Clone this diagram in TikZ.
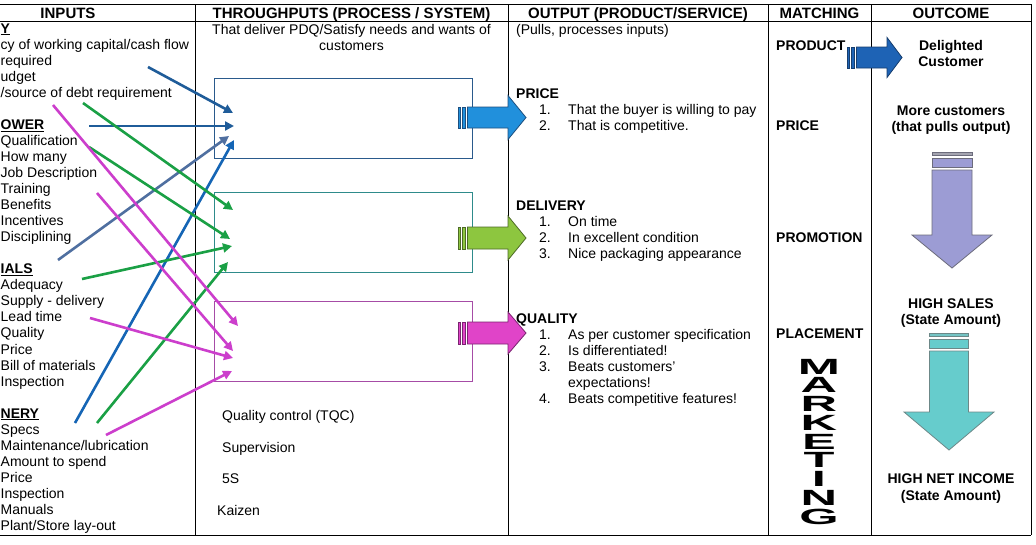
\documentclass[tikz,border=0pt]{standalone}
\usepackage{fontspec}
\setmainfont{Liberation Sans}
\setsansfont{Liberation Sans}
\usetikzlibrary{arrows.meta}
\definecolor{cDarkBlue}{HTML}{1F5C99}
\definecolor{cSlate}{HTML}{4F6FA0}
\definecolor{cBlue}{HTML}{1565B5}
\definecolor{cGreen}{HTML}{1AA045}
\definecolor{cMag}{HTML}{CC3ECC}
\definecolor{boxA}{HTML}{2A5A8C}
\definecolor{boxB}{HTML}{2E8B8B}
\definecolor{boxC}{HTML}{A64CA6}
\definecolor{fA}{HTML}{2190DC}\definecolor{dA}{HTML}{1D4F7F}
\definecolor{fB}{HTML}{8DC63F}\definecolor{dB}{HTML}{4E6B26}
\definecolor{fC}{HTML}{E044C8}\definecolor{dC}{HTML}{7A2470}
\definecolor{fP}{HTML}{1E63B5}\definecolor{dP}{HTML}{163E6E}
\definecolor{fL}{HTML}{9C9CD4}\definecolor{dL}{HTML}{6C6C7C}\definecolor{bL}{HTML}{A4A4B0}
\definecolor{fT}{HTML}{66CCCC}\definecolor{dT}{HTML}{6C8888}\definecolor{bT}{HTML}{74C4C4}
% striped right block arrow: fill, draw, x0, xhead, xtip, cy, shaft half, head half
\newcommand\rsarrow[8]{%
  \filldraw[fill=#1,draw=#2,line width=0.8pt] ({#3},{#6-#7}) rectangle ({#3+2.5},{#6+#7});
  \filldraw[fill=#1,draw=#2,line width=0.8pt] ({#3+4.5},{#6-#7}) rectangle ({#3+7.5},{#6+#7});
  \filldraw[fill=#1,draw=#2,line width=0.8pt] ({#3+9.5},{#6-#7}) -- ({#4},{#6-#7}) -- ({#4},{#6-#8})
     -- ({#5},{#6}) -- ({#4},{#6+#8}) -- ({#4},{#6+#7}) -- ({#3+9.5},{#6+#7}) -- cycle;}
% striped down block arrow: fill, draw, barfill, cx, ytop, yhead, ytip, shaft half, head half
\newcommand\dsarrow[9]{%
  \filldraw[fill=#3,draw=#2,line width=0.8pt] ({#4-#8},{#5}) rectangle ({#4+#8},{#5+3.5});
  \filldraw[fill=#1,draw=#2,line width=0.8pt] ({#4-#8},{#5+6.5}) rectangle ({#4+#8},{#5+15});
  \filldraw[fill=#1,draw=#2,line width=0.8pt] ({#4-#8},{#5+18}) -- ({#4+#8},{#5+18}) -- ({#4+#8},{#6})
     -- ({#4+#9},{#6}) -- ({#4},{#7}) -- ({#4-#9},{#6}) -- ({#4-#8},{#6}) -- cycle;}
\newcommand\li[3]{\node[txt] (#2) at (0.5,{33+16.05*#1}) {#3};}
\newcommand\itm[4]{\node[num] (#1n) at (551,#2) {#3.}; \node[txt] (#1) at (568,#2) {#4};}
\begin{document}
\begin{tikzpicture}[x=1pt,y=-1pt,
  hdr/.style={font=\bfseries\fontsize{15}{17}\selectfont, inner sep=0, anchor=base},
  txt/.style={font=\fontsize{14}{16}\selectfont, inner sep=0, anchor=base west},
  ctxt/.style={font=\fontsize{14}{16}\selectfont, inner sep=0, anchor=base},
  btxt/.style={font=\bfseries\fontsize{14}{16}\selectfont, inner sep=0, anchor=base west},
  cbtxt/.style={font=\bfseries\fontsize{14}{16}\selectfont, inner sep=0, anchor=base},
  num/.style={font=\fontsize{14}{16}\selectfont, inner sep=0, anchor=base east},
  conn/.style={line width=2.6pt, -{Triangle[length=9pt,width=9pt]}},
  procbox/.style={minimum width=258pt, minimum height=80pt, inner sep=0, line width=0.9pt},
  mk/.style={font=\bfseries\fontsize{22}{22}\selectfont, inner sep=0},
  grid/.style={line width=1pt, black}]
\useasboundingbox[fill=white] (0,0) rectangle (1036,544);
% table
\draw[grid] (0,4) -- (1031,4) (0,21.5) -- (1031,21.5) (0,535) -- (1031,535);
\foreach \x in {195,508,768,871,1031} \draw[grid] (\x,4) -- (\x,535);
% headers
\node[hdr] (hIn) at (68,18.5) {INPUTS};
\node[hdr] (hTh) at (351.5,18.5) {THROUGHPUTS (PROCESS / SYSTEM)};
\node[hdr] (hOut) at (638,18.5) {OUTPUT (PRODUCT/SERVICE)};
\node[hdr] (hMa) at (819.5,18.5) {MATCHING};
\node[hdr] (hOc) at (951,18.5) {OUTCOME};
% inputs column
\li{0}{i0}{\underline{\textbf{Y}}}
\li{1}{i1}{cy of working capital/cash flow}
\li{2}{i2}{required}
\li{3}{i3}{udget}
\li{4}{i4}{/source of debt requirement}
\li{6}{i6}{\underline{\textbf{OWER}}}
\li{7}{i7}{Qualification}
\li{8}{i8}{How many}
\li{9}{i9}{Job Description}
\li{10}{i10}{Training}
\li{11}{i11}{Benefits}
\li{12}{i12}{Incentives}
\li{13}{i13}{Disciplining}
\li{15}{i15}{\underline{\textbf{IALS}}}
\li{16}{i16}{Adequacy}
\li{17}{i17}{Supply - delivery}
\li{18}{i18}{Lead time}
\li{19}{i19}{Quality}
\li{20}{i20}{Price}
\li{21}{i21}{Bill of materials}
\li{22}{i22}{Inspection}
\li{24}{i24}{\underline{\textbf{NERY}}}
\li{25}{i25}{Specs}
\li{26}{i26}{Maintenance/lubrication}
\li{27}{i27}{Amount to spend}
\li{28}{i28}{Price}
\li{29}{i29}{Inspection}
\li{30}{i30}{Manuals}
\li{31}{i31}{Plant/Store lay-out}
% throughputs column
\node[ctxt] (sub1) at (351.5,34) {That deliver PDQ/Satisfy needs and wants of};
\node[ctxt] (sub2) at (351.5,50) {customers};
\node[procbox, draw=boxA] (b1) at (343,118) {};
\node[procbox, draw=boxB] (b2) at (343,232.5) {};
\node[procbox, draw=boxC] (b3) at (343,341.5) {};
\node[txt] (q1) at (222,420) {Quality control (TQC)};
\node[txt] (q2) at (222,452) {Supervision};
\node[txt] (q3) at (222,483) {5S};
\node[txt] (q4) at (217,515) {Kaizen};
% block arrows from boxes
\rsarrow{fA}{dA}{458}{508}{526}{117.5}{10.5}{22}
\rsarrow{fB}{dB}{458}{508}{526}{238}{11}{22}
\rsarrow{fC}{dC}{458}{508}{526}{333}{11}{21}
% connectors
\coordinate (s1) at (148,67);   \coordinate (t1) at (233,113);
\coordinate (s2) at (89,126);   \coordinate (t2) at (234,126);
\coordinate (s3) at (58,260);   \coordinate (t3) at (229,136);
\coordinate (s4) at (75,423);   \coordinate (t4) at (234,140);
\coordinate (s5) at (83,103);   \coordinate (t5) at (233,210);
\coordinate (s6) at (89,147);   \coordinate (t6) at (230,239);
\coordinate (s7) at (82,279);   \coordinate (t7) at (232,246);
\coordinate (s8) at (97,423);   \coordinate (t8) at (228,262);
\coordinate (s9) at (53,105);   \coordinate (t9) at (238,326);
\coordinate (s10) at (97,193);  \coordinate (t10) at (233,351);
\coordinate (s11) at (90,318);  \coordinate (t11) at (233,358);
\coordinate (s12) at (106,435); \coordinate (t12) at (232,371);
\draw[conn, cDarkBlue] (s1) -- (t1);
\draw[conn, cDarkBlue] (s2) -- (t2);
\draw[conn, cSlate] (s3) -- (t3);
\draw[conn, cBlue] (s4) -- (t4);
\draw[conn, cGreen] (s5) -- (t5);
\draw[conn, cGreen] (s6) -- (t6);
\draw[conn, cGreen] (s7) -- (t7);
\draw[conn, cGreen] (s8) -- (t8);
\draw[conn, cMag] (s9) -- (t9);
\draw[conn, cMag] (s10) -- (t10);
\draw[conn, cMag] (s11) -- (t11);
\draw[conn, cMag] (s12) -- (t12);
% output column
\node[txt] (pulls) at (516,34) {(Pulls, processes inputs)};
\node[btxt] (oPrice) at (516,98) {PRICE};
\itm{op1}{114}{1}{That the buyer is willing to pay}
\itm{op2}{130}{2}{That is competitive.}
\node[btxt] (oDel) at (516,210) {DELIVERY};
\itm{od1}{226.5}{1}{On time}
\itm{od2}{242.5}{2}{In excellent condition}
\itm{od3}{258.5}{3}{Nice packaging appearance}
\node[btxt] (oQual) at (516,323) {QUALITY};
\itm{oq1}{339}{1}{As per customer specification}
\itm{oq2}{355}{2}{Is differentiated!}
\itm{oq3}{371}{3}{Beats customers'}
\node[txt] (oq3b) at (568,387) {expectations!};
\itm{oq4}{403}{4}{Beats competitive features!}
% matching column
\node[btxt] (mProd) at (776,50) {PRODUCT};
\node[btxt] (mPrice) at (776,130) {PRICE};
\node[btxt] (mProm) at (776,242) {PROMOTION};
\node[btxt] (mPlace) at (776,338.5) {PLACEMENT};
\foreach \l [count=\i from 0] in {M,A,R,K,E,T,I,N,G}
  \node[mk] (mk\i) at (819,{366.5+18.75*\i}) {\scalebox{2.3}[1]{\l}};
% outcome column
\rsarrow{fP}{dP}{847}{887}{902}{57.5}{10.5}{20}
\node[cbtxt] (oc1) at (951,50) {Delighted};
\node[cbtxt] (oc2) at (951,66.5) {Customer};
\node[cbtxt] (oc3) at (951,115) {More customers};
\node[cbtxt] (oc4) at (951,131.5) {(that pulls output)};
\dsarrow{fL}{dL}{bL}{952}{152}{235}{268}{20}{40}
\node[cbtxt] (oc5) at (951,308) {HIGH SALES};
\node[cbtxt] (oc6) at (951,324.5) {(State Amount)};
\dsarrow{fT}{dT}{bT}{949}{333}{412}{450}{19.5}{45}
\node[cbtxt] (oc7) at (951,483) {HIGH NET INCOME};
\node[cbtxt] (oc8) at (951,500.5) {(State Amount)};
\end{tikzpicture}
\end{document}
